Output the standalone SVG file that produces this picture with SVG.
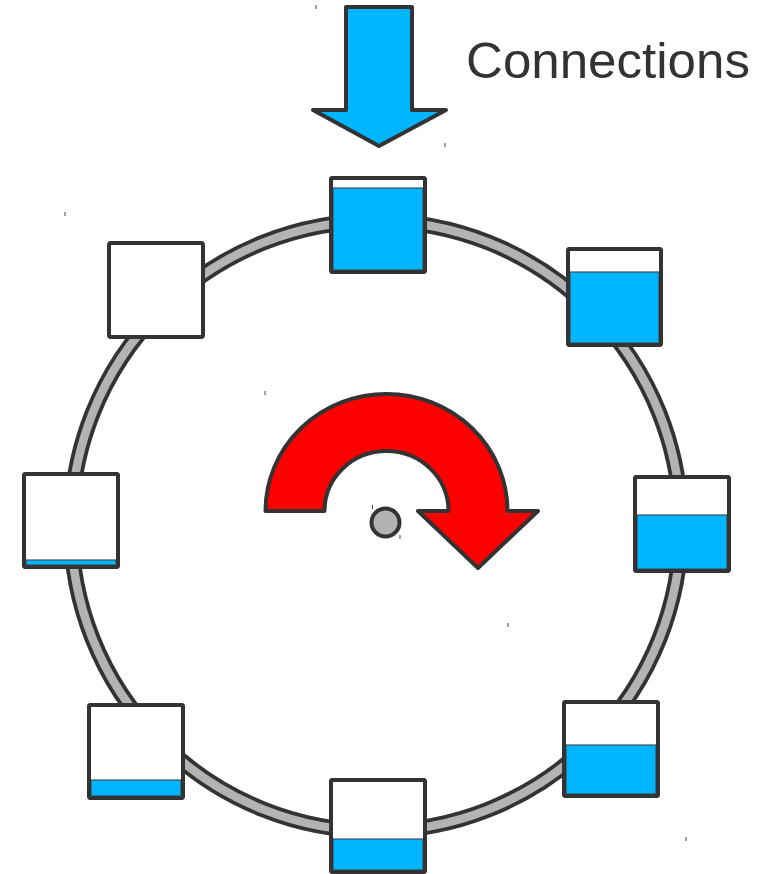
<svg xmlns="http://www.w3.org/2000/svg" width="766" height="874" viewBox="0 0 766 874">
  <style>
    .ring-edge { fill: none; stroke: #333333; stroke-width: 16; }
    .ring-core { fill: none; stroke: #b3b3b3; stroke-width: 8.5; }
    .box { fill: #ffffff; stroke: #333333; stroke-width: 4; }
    .water { fill: #00b6ff; stroke: #3d4f5a; stroke-width: 1.2; }
    .frame { fill: none; stroke: #333333; stroke-width: 4; }
    .arrow-blue { fill: #00b6ff; stroke: #333333; stroke-width: 4; stroke-linejoin: round; }
    .arrow-red { fill: #ff0000; stroke: #333333; stroke-width: 4; stroke-linejoin: round; }
    .hub { fill: #b3b3b3; stroke: #333333; stroke-width: 4; }
    .label { font-family: "Liberation Sans", Arial, sans-serif; font-size: 50px; fill: #333333; }
    .speck { fill: #444444; }
  </style>

  <rect width="766" height="874" fill="#ffffff"/>

  <!-- ring the slots ride on -->
  <g id="ring">
    <circle class="ring-edge" cx="376" cy="526" r="305"/>
    <circle class="ring-core" cx="376" cy="526" r="305"/>
  </g>

  <!-- incoming connections arrow -->
  <g id="incoming">
    <polygon class="arrow-blue" points="346,7 412,7 412,110 446,110 379,146 313,110 346,110"/>
    <text class="label" x="466" y="78" textLength="284" lengthAdjust="spacingAndGlyphs">Connections</text>
  </g>

  <!-- slots around the ring, each with its fill level -->
  <g id="slot-top">
    <rect class="box" x="331" y="178" width="94" height="94" rx="2"/>
    <rect class="water" x="333" y="188" width="90" height="82"/>
    <rect class="frame" x="331" y="178" width="94" height="94" rx="2"/>
  </g>
  <g id="slot-top-right">
    <rect class="box" x="568" y="249" width="93" height="96" rx="2"/>
    <rect class="water" x="570" y="272" width="89" height="71"/>
    <rect class="frame" x="568" y="249" width="93" height="96" rx="2"/>
  </g>
  <g id="slot-right">
    <rect class="box" x="635" y="477" width="94" height="94" rx="2"/>
    <rect class="water" x="637" y="515" width="90" height="54"/>
    <rect class="frame" x="635" y="477" width="94" height="94" rx="2"/>
  </g>
  <g id="slot-bottom-right">
    <rect class="box" x="564" y="702" width="94" height="94" rx="2"/>
    <rect class="water" x="566" y="745" width="90" height="49"/>
    <rect class="frame" x="564" y="702" width="94" height="94" rx="2"/>
  </g>
  <g id="slot-bottom">
    <rect class="box" x="331" y="780" width="94" height="92" rx="2"/>
    <rect class="water" x="333" y="839" width="90" height="31"/>
    <rect class="frame" x="331" y="780" width="94" height="92" rx="2"/>
  </g>
  <g id="slot-bottom-left">
    <rect class="box" x="89" y="705" width="94" height="93" rx="2"/>
    <rect class="water" x="91" y="780" width="90" height="16"/>
    <rect class="frame" x="89" y="705" width="94" height="93" rx="2"/>
  </g>
  <g id="slot-left">
    <rect class="box" x="24" y="474" width="94" height="93" rx="2"/>
    <rect class="water" x="26" y="560" width="90" height="5"/>
    <rect class="frame" x="24" y="474" width="94" height="93" rx="2"/>
  </g>
  <g id="slot-top-left">
    <rect class="box" x="109" y="243" width="94" height="94" rx="2"/>
  </g>

  <!-- rotation indicator and hub -->
  <g id="rotation">
    <path class="arrow-red" d="M265.5,511 A121,117 0 0 1 507.5,511 L538,511 L478,568 L418,511 L448.5,511 A62,60 0 0 0 324.5,511 Z"/>
  </g>
  <g id="hub">
    <circle class="hub" cx="385.5" cy="522.5" r="14"/>
  </g>

  <!-- stray specks -->
  <g id="specks">
    <rect class="speck" x="315.5" y="5" width="1" height="4"/>
    <rect class="speck" x="444.5" y="143" width="1" height="4"/>
    <rect class="speck" x="64.5" y="212" width="1" height="4"/>
    <rect class="speck" x="264.5" y="391" width="1" height="4"/>
    <rect class="speck" x="372" y="505" width="1" height="4"/>
    <rect class="speck" x="399.5" y="535" width="1" height="4"/>
    <rect class="speck" x="507.5" y="623" width="1" height="4"/>
    <rect class="speck" x="685.5" y="837" width="1" height="4"/>
  </g>
</svg>
